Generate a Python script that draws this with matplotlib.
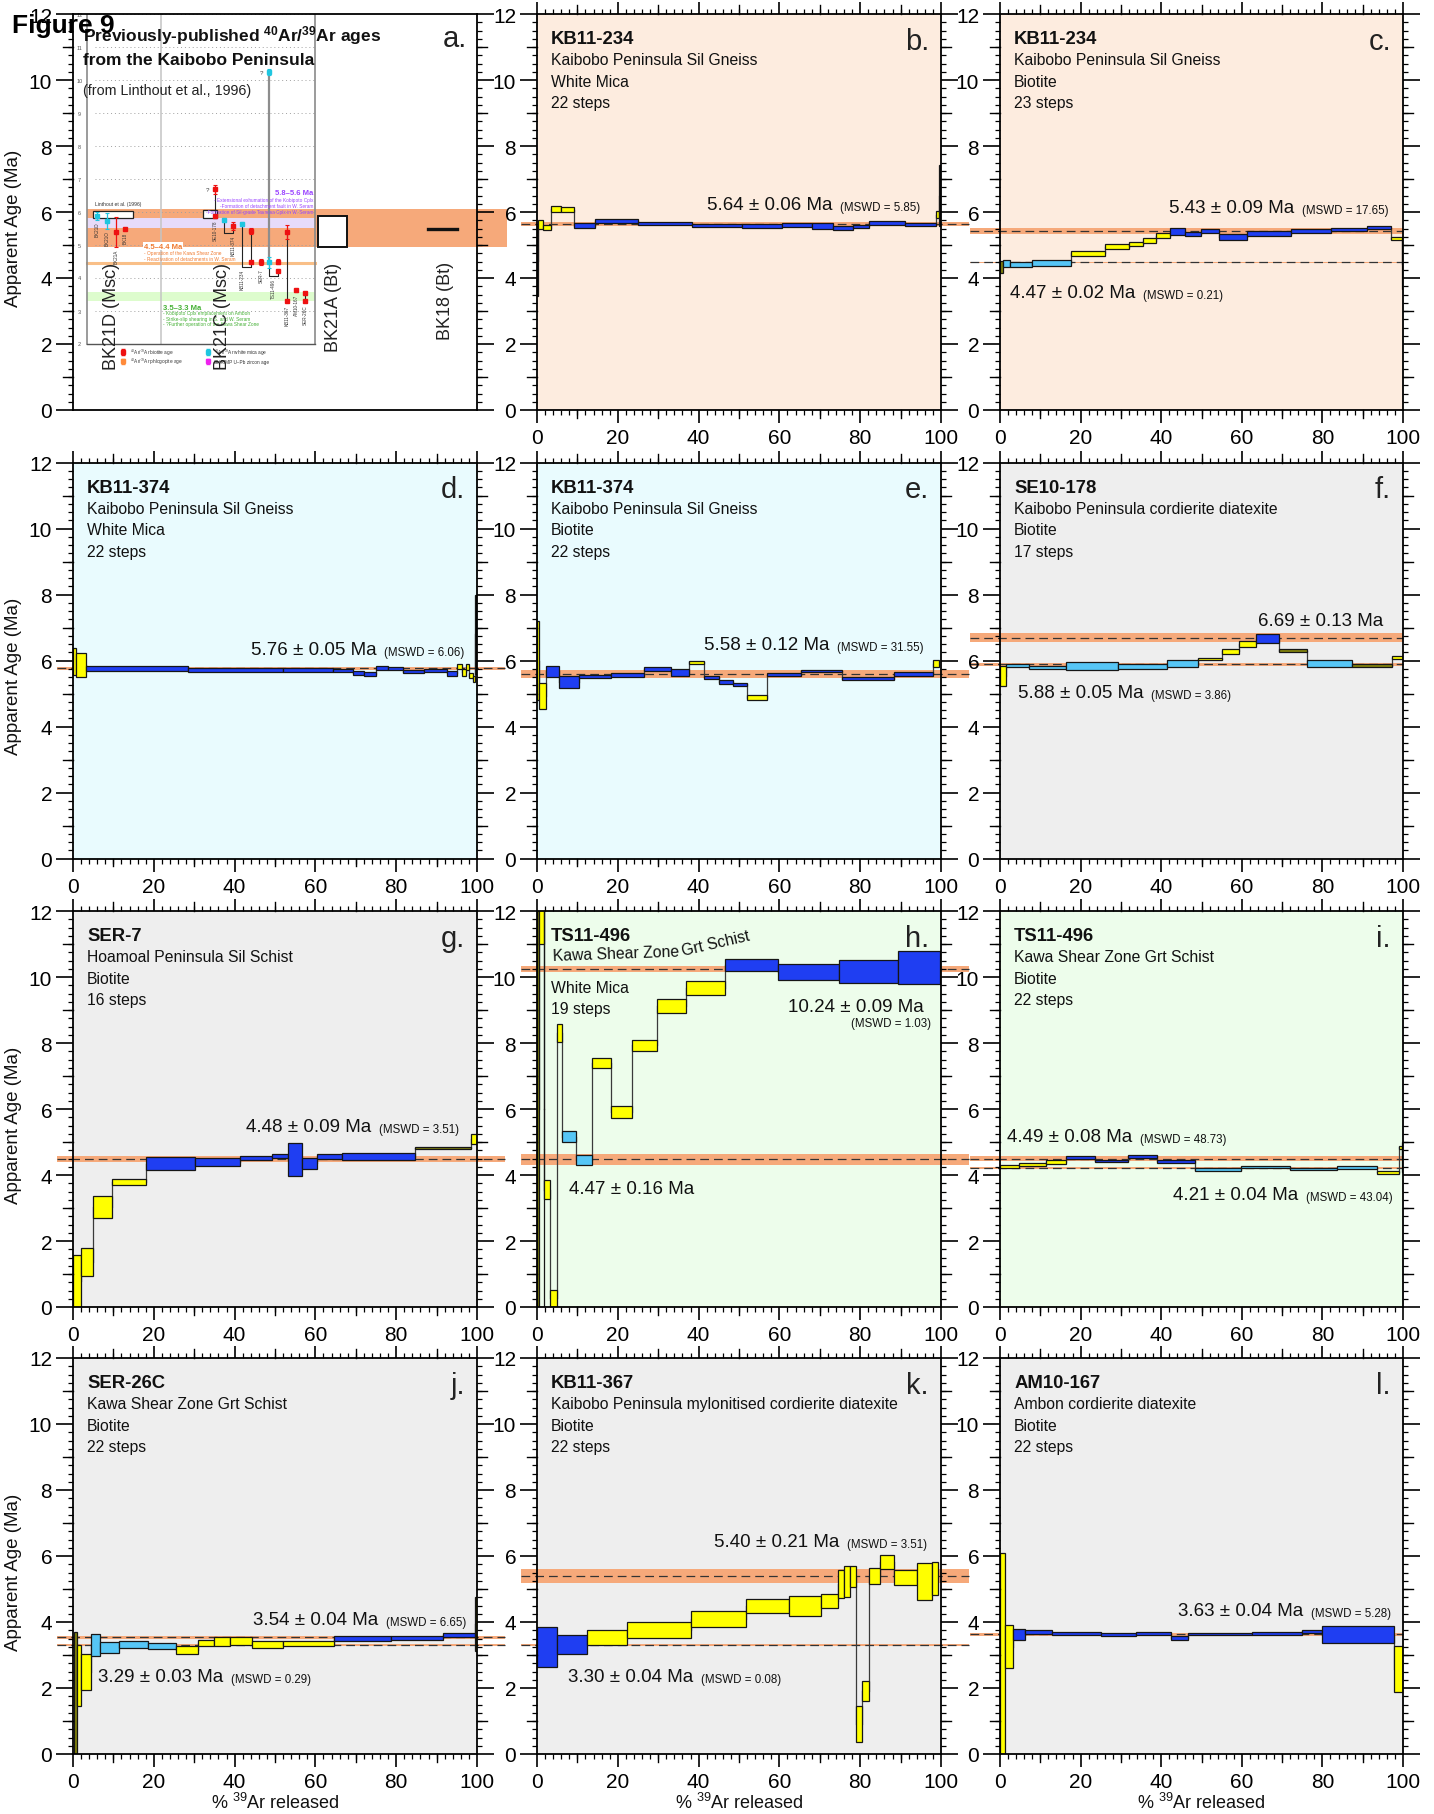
import matplotlib
matplotlib.use("Agg")
import matplotlib.pyplot as plt
from matplotlib.patches import Rectangle
from matplotlib.ticker import MultipleLocator

W, H = 1434, 1815
NARROW = ['Liberation Sans', 'DejaVu Sans']
REG = ['Liberation Sans', 'DejaVu Sans']
plt.rcParams['font.family'] = REG
plt.rcParams['mathtext.fontset'] = 'custom'
plt.rcParams['mathtext.rm'] = 'Liberation Sans'

# ---------------------------------------------------------------- data
# step-heating spectra: cumulative % 39Ar edges, apparent age, 2-sigma half height, colour code
B_EDGES = [0, 0.3, 1.5, 3.5, 5.9, 9.1, 14.4, 24.9, 38.4, 50.7, 60.6, 68.1, 73.3, 78.1, 82.3, 91.2, 98.8, 99.6, 100]
B_AGE = [4.52, 5.62, 5.53, 6.10, 6.07, 5.59, 5.74, 5.65, 5.60, 5.575, 5.61, 5.57, 5.51, 5.57, 5.665, 5.615, 5.92, 6.50]
B_ERR = [1.06, 0.14, 0.08, 0.09, 0.07, 0.07, 0.06, 0.045, 0.05, 0.055, 0.05, 0.09, 0.07, 0.05, 0.055, 0.045, 0.11, 0.93]
B_COL = list("KYYYYBBBBBBBBBBBYK")

C_EDGES = [0, 0.7, 2.5, 8.0, 17.5, 26.0, 31.9, 35.5, 38.8, 42.3, 46.0, 49.8, 54.3, 61.3, 72.1, 82.2, 91.1, 97.1, 99.8, 100]
C_AGE = [4.34, 4.43, 4.42, 4.455, 4.745, 4.95, 5.04, 5.125, 5.285, 5.415, 5.33, 5.43, 5.245, 5.345, 5.415, 5.47, 5.53, 5.195, 4.42]
C_ERR = [0.18, 0.11, 0.08, 0.085, 0.075, 0.075, 0.065, 0.075, 0.075, 0.115, 0.07, 0.07, 0.085, 0.065, 0.065, 0.06, 0.05, 0.045, 0.76]
C_COL = list("OLLLYYYYYBBBBBBBBYK")

D_EDGES = [0, 0.7, 3.1, 28.4, 51.9, 64.3, 69.2, 72.0, 75.0, 77.9, 81.6, 87.0, 92.5, 95.1, 96.2, 97.4, 98.1, 98.9, 99.6, 100]
D_AGE = [5.97, 5.87, 5.76, 5.71, 5.71, 5.69, 5.62, 5.59, 5.78, 5.75, 5.665, 5.69, 5.615, 5.81, 5.64, 5.80, 5.54, 5.445, 6.8]
D_ERR = [0.41, 0.37, 0.08, 0.05, 0.05, 0.05, 0.06, 0.05, 0.06, 0.045, 0.055, 0.05, 0.075, 0.07, 0.1, 0.1, 0.07, 0.09, 1.2]
D_COL = list("YYBBBBBBBBBBBYYYYYK")

E_EDGES = [0, 0.6, 2.2, 5.5, 10.3, 18.2, 26.5, 33.1, 37.5, 41.3, 45.0, 48.4, 51.9, 57.0, 65.3, 75.5, 88.4, 97.9, 99.6]
E_AGE = [6.0, 4.92, 5.675, 5.345, 5.505, 5.55, 5.735, 5.635, 5.94, 5.485, 5.345, 5.28, 4.875, 5.575, 5.68, 5.445, 5.59, 5.905]
E_ERR = [1.2, 0.4, 0.165, 0.19, 0.05, 0.06, 0.055, 0.095, 0.05, 0.055, 0.055, 0.05, 0.075, 0.035, 0.04, 0.045, 0.05, 0.115]
E_COL = list("YYBBBBBBYBBBYBBBBY")

F_EDGES = [0, 1.5, 7.3, 16.5, 29.4, 41.5, 49.2, 55.0, 59.3, 63.5, 69.3, 76.3, 87.3, 97.2, 100]
F_AGE = [5.525, 5.835, 5.785, 5.835, 5.805, 5.92, 6.055, 6.285, 6.5, 6.655, 6.30, 5.92, 5.845, 6.085]
F_ERR = [0.305, 0.045, 0.055, 0.125, 0.075, 0.11, 0.025, 0.075, 0.085, 0.135, 0.04, 0.11, 0.035, 0.045]
F_COL = list("YLLLLLYYYBOLOY")

G_EDGES = [0, 1.9, 4.9, 9.7, 18.1, 30.3, 41.4, 49.3, 53.2, 56.6, 60.5, 66.7, 84.7, 98.4, 100]
G_AGE = [0.79, 1.355, 3.025, 3.795, 4.345, 4.40, 4.515, 4.59, 4.465, 4.35, 4.555, 4.56, 4.82, 5.08]
G_ERR = [0.79, 0.425, 0.325, 0.085, 0.19, 0.12, 0.055, 0.06, 0.505, 0.18, 0.075, 0.12, 0.03, 0.15]
G_COL = list("YYYYBBBBBBBBOY")

H_EDGES = [0, 0.6, 1.7, 1.85, 3.2, 5.0, 6.3, 9.6, 13.7, 18.2, 23.6, 29.8, 37.0, 46.5, 59.7, 74.8, 89.4, 99.8]
H_AGE = [6.0, 12.0, 6.0, 3.555, 0.265, 8.3, 5.165, 4.455, 7.385, 5.9, 7.935, 9.115, 9.67, 10.37, 10.155, 10.165, 10.29]
H_ERR = [6.5, 1.0, 6.5, 0.295, 0.265, 0.28, 0.155, 0.155, 0.155, 0.18, 0.165, 0.205, 0.21, 0.19, 0.235, 0.345, 0.49]
H_COL = list("OYKYYYLLYYYYYBBBB")

I_EDGES = [0, 4.8, 11.3, 16.3, 23.6, 31.7, 38.9, 48.4, 59.8, 72.0, 83.7, 93.6, 99.1, 99.75, 100]
I_AGE = [4.265, 4.305, 4.39, 4.525, 4.42, 4.575, 4.415, 4.165, 4.25, 4.18, 4.22, 4.08, 4.84, 4.55]
I_ERR = [0.045, 0.045, 0.06, 0.045, 0.04, 0.045, 0.045, 0.035, 0.03, 0.04, 0.04, 0.05, 0.05, 0.45]
I_COL = list("YYYBBBBLLLLYYK")

J_EDGES = [0.3, 1.1, 2.1, 4.4, 6.8, 11.4, 18.6, 25.5, 30.9, 35.0, 38.9, 44.4, 51.9, 64.7, 78.6, 91.5, 99.6, 100]
J_AGE = [1.855, 2.37, 2.485, 3.31, 3.215, 3.305, 3.265, 3.145, 3.355, 3.40, 3.43, 3.31, 3.345, 3.50, 3.515, 3.61, 3.94]
J_ERR = [1.855, 0.93, 0.545, 0.33, 0.165, 0.105, 0.085, 0.115, 0.095, 0.14, 0.13, 0.10, 0.065, 0.065, 0.06, 0.05, 0.81]
J_COL = list("OYYLLLLYYYYYYBBBY")

K_EDGES = [0, 5.0, 12.3, 22.4, 38.0, 51.7, 62.4, 70.3, 74.4, 76.1, 77.5, 78.9, 80.4, 82.2, 84.9, 88.4, 94.0, 97.7, 99.2]
K_AGE = [3.235, 3.32, 3.53, 3.76, 4.09, 4.485, 4.475, 4.63, 5.155, 5.22, 5.37, 0.895, 1.92, 5.395, 5.825, 5.36, 5.225, 5.33]
K_ERR = [0.605, 0.29, 0.23, 0.25, 0.25, 0.215, 0.305, 0.22, 0.425, 0.47, 0.32, 0.545, 0.30, 0.245, 0.215, 0.23, 0.555, 0.5]
K_COL = list("BBYYYYYYYYYYYYYYYY")

L_EDGES = [0, 1.2, 3.2, 6.3, 13.0, 25.0, 33.7, 42.4, 46.7, 62.5, 74.9, 79.8, 97.7, 100]
L_AGE = [3.05, 3.25, 3.62, 3.69, 3.66, 3.62, 3.65, 3.52, 3.64, 3.66, 3.72, 3.62, 2.575]
L_ERR = [3.05, 0.65, 0.17, 0.06, 0.05, 0.05, 0.05, 0.07, 0.04, 0.04, 0.05, 0.26, 0.695]
L_COL = list("YYBBBBBBBBBBY")

# plateau ages (age, error)
B_PLAT = [(5.64, 0.06)]
C_PLAT = [(5.43, 0.09), (4.47, 0.02)]
D_PLAT = [(5.76, 0.05)]
E_PLAT = [(5.58, 0.12)]
F_PLAT = [(6.69, 0.13), (5.88, 0.05)]
G_PLAT = [(4.48, 0.09)]
H_PLAT = [(10.24, 0.09), (4.47, 0.16)]
I_PLAT = [(4.49, 0.08), (4.21, 0.04)]
J_PLAT = [(3.54, 0.04), (3.29, 0.03)]
K_PLAT = [(5.40, 0.21), (3.30, 0.04)]
L_PLAT = [(3.63, 0.04)]

# plateau annotations: (x %, y Ma, age text, MSWD text)
B_LAB = [(42.1, 6.09, '5.64 ± 0.06 Ma', '(MSWD = 5.85)')]
C_LAB = [(41.9, 6.00, '5.43 ± 0.09 Ma', '(MSWD = 17.65)'), (2.5, 3.42, '4.47 ± 0.02 Ma', '(MSWD = 0.21)')]
D_LAB = [(44.1, 6.21, '5.76 ± 0.05 Ma', '(MSWD = 6.06)')]
E_LAB = [(41.3, 6.36, '5.58 ± 0.12 Ma', '(MSWD = 31.55)')]
F_LAB = [(64.0, 7.09, '6.69 ± 0.13 Ma', None), (4.5, 4.88, '5.88 ± 0.05 Ma', '(MSWD = 3.86)')]
G_LAB = [(42.8, 5.33, '4.48 ± 0.09 Ma', '(MSWD = 3.51)')]
H_LAB = [(62.1, 8.97, '10.24 ± 0.09 Ma', None), (7.9, 3.45, '4.47 ± 0.16 Ma', None)]
I_LAB = [(1.7, 5.03, '4.49 ± 0.08 Ma', '(MSWD = 48.73)'), (42.9, 3.27, '4.21 ± 0.04 Ma', '(MSWD = 43.04)')]
J_LAB = [(44.6, 3.94, '3.54 ± 0.04 Ma', '(MSWD = 6.65)'), (6.2, 2.21, '3.29 ± 0.03 Ma', '(MSWD = 0.29)')]
K_LAB = [(43.8, 6.30, '5.40 ± 0.21 Ma', '(MSWD = 3.51)'), (7.7, 2.21, '3.30 ± 0.04 Ma', '(MSWD = 0.08)')]
L_LAB = [(44.2, 4.21, '3.63 ± 0.04 Ma', '(MSWD = 5.28)')]

# sample descriptions
B_TXT = ['KB11-234', 'Kaibobo Peninsula Sil Gneiss', 'White Mica', '22 steps']
C_TXT = ['KB11-234', 'Kaibobo Peninsula Sil Gneiss', 'Biotite', '23 steps']
D_TXT = ['KB11-374', 'Kaibobo Peninsula Sil Gneiss', 'White Mica', '22 steps']
E_TXT = ['KB11-374', 'Kaibobo Peninsula Sil Gneiss', 'Biotite', '22 steps']
F_TXT = ['SE10-178', 'Kaibobo Peninsula cordierite diatexite', 'Biotite', '17 steps']
G_TXT = ['SER-7', 'Hoamoal Peninsula Sil Schist', 'Biotite', '16 steps']
H_TXT = ['TS11-496', None, 'White Mica', '19 steps']
I_TXT = ['TS11-496', 'Kawa Shear Zone Grt Schist', 'Biotite', '22 steps']
J_TXT = ['SER-26C', 'Kawa Shear Zone Grt Schist', 'Biotite', '22 steps']
K_TXT = ['KB11-367', 'Kaibobo Peninsula mylonitised cordierite diatexite', 'Biotite', '22 steps']
L_TXT = ['AM10-167', 'Ambon cordierite diatexite', 'Biotite', '22 steps']

# panel a: previously published ages (Linthout et al., 1996 inset)
A_PT_X = [5.9, 8.4, 10.6, 12.9, 35.1, 35.1, 37.4, 39.6, 41.8, 44.1, 44.1, 46.5, 48.5, 48.5, 50.7, 50.7, 53.0, 53.0, 55.2, 57.4, 57.4]
A_PT_AGE = [5.88, 5.72, 5.40, 5.48, 6.69, 5.88, 5.76, 5.58, 5.64, 5.43, 4.47, 4.48, 10.24, 4.47, 4.49, 4.21, 5.40, 3.30, 3.63, 3.54, 3.29]
A_PT_ERR = [0.12, 0.25, 0.45, 0.03, 0.13, 0.05, 0.05, 0.12, 0.06, 0.09, 0.02, 0.09, 0.09, 0.16, 0.08, 0.04, 0.21, 0.04, 0.04, 0.04, 0.03]
A_PT_KIND = list("CCRRRRCRCRRRCCRRRRRRR")
A_SAMPLES = ['BK21D', 'BK21O', 'BK21A', 'BK18', 'SE10-178', 'KB11-374', 'KB11-234', 'SER-7', 'TS11-496', 'KB11-367', 'AM10-167', 'SER-26C']
A_SAMPLE_X = [5.9, 8.4, 10.6, 12.9, 35.1, 39.6, 41.8, 46.5, 49.6, 53.0, 55.2, 57.4]
A_SAMPLE_TOP = [5.72, 5.45, 4.90, 5.40, 5.76, 5.30, 4.28, 4.30, 4.00, 3.20, 3.52, 3.20]
A_BIG_LABELS = ['BK21D (Msc)', 'BK21C (Msc)', 'BK21A (Bt)', 'BK18 (Bt)']
A_BIG_X = [9.65, 36.9, 64.4, 92.1]
A_BIG_Y = [1.24, 1.24, 1.79, 2.15]
A_BK21A_AGE = (4.94, 5.88)
A_BK18_AGE = 5.5
A_BAND_ORANGE = (4.94, 6.09)
A_BAND_PURPLE = (5.52, 5.82)
A_LINE_ORANGE = 4.45
A_BAND_GREEN = (3.30, 3.58)

# ---------------------------------------------------------------- style
PEACH, CYAN, GREY, GREEN = '#fdecdf', '#e9fbfe', '#eeeeee', '#edfdeb'
BAND = '#f6a97a'
STEP_COLORS = {'Y': '#ffff00', 'B': '#1f3ef2', 'L': '#56c6f6', 'O': '#86860c', 'K': '#2a2a2a'}
COL_L = [73, 537, 1000]
COL_W = [404, 404, 403]
ROW_T = [15, 463.5, 912, 1359]
ROW_H = 396

fig = plt.figure(figsize=(W / 100, H / 100), dpi=100)


def rect(r, c):
    return [COL_L[c] / W, 1 - (ROW_T[r] + ROW_H) / H, COL_W[c] / W, ROW_H / H]


def setup(ax, bg, xticks=True):
    ax.set_xlim(0, 100)
    ax.set_ylim(0, 12)
    ax.set_facecolor(bg)
    for s in ax.spines.values():
        s.set_linewidth(1.3)
        s.set_zorder(4)
    ax.yaxis.set_major_locator(MultipleLocator(2))
    ax.yaxis.set_minor_locator(MultipleLocator(0.25))
    ax.xaxis.set_major_locator(MultipleLocator(20))
    ax.xaxis.set_minor_locator(MultipleLocator(2))
    ax.tick_params(axis='y', which='major', direction='out', length=12, width=1.2,
                   left=True, right=True, labelsize=15, pad=3)
    ax.tick_params(axis='y', which='minor', direction='out', length=3.6, width=0.9,
                   left=True, right=True)
    ty = ax.get_yaxis_transform()
    for v in range(1, 12, 2):
        ax.plot([-0.025, 0], [v, v], transform=ty, color='k', lw=1.0, clip_on=False, zorder=4)
        ax.plot([1, 1.025], [v, v], transform=ty, color='k', lw=1.0, clip_on=False, zorder=4)
    if xticks:
        ax.tick_params(axis='x', which='major', direction='out', length=9, width=1.2,
                       top=True, bottom=True, labelsize=15, pad=4)
        ax.tick_params(axis='x', which='minor', direction='out', length=3.6, width=0.9,
                       top=True, bottom=True)
        tx = ax.get_xaxis_transform()
        for v in range(10, 100, 20):
            ax.plot([v, v], [-0.02, 0], transform=tx, color='k', lw=1.0, clip_on=False, zorder=4)
            ax.plot([v, v], [1, 1.022], transform=tx, color='k', lw=1.0, clip_on=False, zorder=4)
    else:
        ax.tick_params(axis='x', which='both', bottom=False, top=False, labelbottom=False)


def spectrum(ax, edges, ages, errs, cols):
    n = len(ages)
    lefts = edges[:n]
    widths = [edges[i + 1] - edges[i] for i in range(n)]
    bottoms = [a - e for a, e in zip(ages, errs)]
    heights = [2 * e for e in errs]
    ax.bar(lefts, heights, width=widths, bottom=bottoms, align='edge',
           color=[STEP_COLORS[c] for c in cols], edgecolor='#161616', linewidth=0.9, zorder=3)
    for i in range(n - 1):
        ax.plot([edges[i + 1]] * 2, [ages[i], ages[i + 1]], color='#3a3a3a', lw=0.9, zorder=2)


def plateau(ax, age, err, x0, x1):
    h = max(err, 0.03)
    ax.add_patch(Rectangle((x0, age - h), x1 - x0, 2 * h, facecolor=BAND, edgecolor='none',
                           clip_on=False, zorder=1))
    ax.plot([x0, x1], [age, age], color='#333333', lw=0.9, dashes=(7, 4),
            clip_on=False, zorder=1.5)


def age_label(ax, x, y, main, mswd):
    t = ax.text(x, y, main, fontsize=13.5, family=REG, color='#111', zorder=6)
    if mswd:
        ax.annotate(mswd, xy=(1, 0), xycoords=t, xytext=(5.5, 0), textcoords='offset points',
                    fontsize=8.3, family=NARROW, color='#111', va='bottom', ha='left', zorder=6)


LINE_Y = [11.12, 10.47, 9.82, 9.17]


def describe(ax, lines, letter):
    for i, s in enumerate(lines):
        if s is None:
            continue
        if i == 0:
            ax.text(3.5, LINE_Y[i], s, fontsize=13.3, weight='bold', family=NARROW, color='#111', zorder=6)
        else:
            ax.text(3.5, LINE_Y[i], s, fontsize=11.3, family=NARROW, color='#111', zorder=6)
    ax.text(97.0, 10.95, letter, fontsize=21, family=NARROW, ha='right', color='#222', zorder=6)


PANELS = [
    ('b', 0, 1, PEACH, B_EDGES, B_AGE, B_ERR, B_COL, B_PLAT, B_LAB, B_TXT),
    ('c', 0, 2, PEACH, C_EDGES, C_AGE, C_ERR, C_COL, C_PLAT, C_LAB, C_TXT),
    ('d', 1, 0, CYAN, D_EDGES, D_AGE, D_ERR, D_COL, D_PLAT, D_LAB, D_TXT),
    ('e', 1, 1, CYAN, E_EDGES, E_AGE, E_ERR, E_COL, E_PLAT, E_LAB, E_TXT),
    ('f', 1, 2, GREY, F_EDGES, F_AGE, F_ERR, F_COL, F_PLAT, F_LAB, F_TXT),
    ('g', 2, 0, GREY, G_EDGES, G_AGE, G_ERR, G_COL, G_PLAT, G_LAB, G_TXT),
    ('h', 2, 1, GREEN, H_EDGES, H_AGE, H_ERR, H_COL, H_PLAT, H_LAB, H_TXT),
    ('i', 2, 2, GREEN, I_EDGES, I_AGE, I_ERR, I_COL, I_PLAT, I_LAB, I_TXT),
    ('j', 3, 0, GREY, J_EDGES, J_AGE, J_ERR, J_COL, J_PLAT, J_LAB, J_TXT),
    ('k', 3, 1, GREY, K_EDGES, K_AGE, K_ERR, K_COL, K_PLAT, K_LAB, K_TXT),
    ('l', 3, 2, GREY, L_EDGES, L_AGE, L_ERR, L_COL, L_PLAT, L_LAB, L_TXT),
]

# ---------------------------------------------------------------- panel a
axa = fig.add_axes(rect(0, 0))
setup(axa, 'white', xticks=False)
IN_L, IN_M, IN_R = 3.5, 21.8, 60.0
axa.add_patch(Rectangle((IN_L, A_BAND_ORANGE[0]), 107.4 - IN_L, A_BAND_ORANGE[1] - A_BAND_ORANGE[0],
                        facecolor=BAND, edgecolor='none', clip_on=False, zorder=1))
axa.add_patch(Rectangle((IN_L, A_BAND_PURPLE[0]), IN_R - IN_L, A_BAND_PURPLE[1] - A_BAND_PURPLE[0],
                        facecolor='#e7dbfa', edgecolor='none', zorder=1.1))
axa.add_patch(Rectangle((IN_L, A_BAND_GREEN[0]), IN_R - IN_L, A_BAND_GREEN[1] - A_BAND_GREEN[0],
                        facecolor='#ddfccd', edgecolor='none', zorder=1.1))
axa.plot([IN_L, IN_R], [A_LINE_ORANGE] * 2, color='#f9bf88', lw=2.2, zorder=1.2)
for v in range(3, 13):
    axa.plot([5.5, IN_R], [v, v], color='#a0a0a0', lw=0.7, ls=(0, (1, 3)), zorder=1.3)
    axa.text(1.6, v, str(v), fontsize=4, color='#555', ha='center', va='center', zorder=2)
axa.text(1.6, 2, '2', fontsize=4, color='#555', ha='center', va='center', zorder=2)
axa.plot([IN_L, IN_L], [2, 12], color='#8a8a8a', lw=1.2, zorder=1.4)
axa.plot([IN_M, IN_M], [2, 12], color='#c4c4c4', lw=1.1, zorder=1.4)
axa.plot([IN_R, IN_R], [2, 12], color='#8a8a8a', lw=1.2, zorder=1.4)
axa.plot([IN_L, IN_R], [2, 2], color='#555', lw=1.0, zorder=1.4)
axa.add_patch(Rectangle((4.95, 5.82), 9.9, 0.21, facecolor='white', edgecolor='#222', lw=0.9, zorder=1.6))
axa.add_patch(Rectangle((32.2, 5.82), 3.4, 0.23, facecolor='white', edgecolor='#222', lw=0.9, zorder=1.6))
axa.text(5.4, 6.22, 'Linthout et al. (1996)', fontsize=3.6, color='#333', zorder=3)
# connectors
axa.plot([48.5, 48.5], [10.24, 4.47], color='#8d8d8d', lw=1.6, zorder=1.8)
for xs, ys in [([35.1, 35.1], [6.69, 5.88]), ([44.1, 44.1], [5.43, 4.47]), ([53.0, 53.0], [5.40, 3.30]),
               ([57.4, 57.4], [3.54, 3.29]),
               ([37.4, 37.4, 39.6, 39.6], [5.76, 5.35, 5.35, 5.58]),
               ([41.8, 41.8, 44.1, 44.1], [5.64, 4.33, 4.33, 4.47]),
               ([48.5, 48.5, 50.7, 50.7], [4.47, 4.07, 4.07, 4.21])]:
    axa.plot(xs, ys, color='#222', lw=0.8, zorder=1.9)
PT_COLORS = {'C': '#1fc6e0', 'R': '#ee1111'}
for x, a, e, k in zip(A_PT_X, A_PT_AGE, A_PT_ERR, A_PT_KIND):
    axa.errorbar([x], [a], yerr=[e], fmt='s', ms=3.2, color=PT_COLORS[k], ecolor=PT_COLORS[k],
                 elinewidth=0.9, capsize=1.6, capthick=0.8, zorder=2.5)
axa.text(33.7, 6.67, '?', fontsize=4.5, color='#333', ha='right', va='center', zorder=3)
axa.text(47.0, 10.24, '?', fontsize=4.5, color='#333', ha='right', va='center', zorder=3)
for s, x, top in zip(A_SAMPLES, A_SAMPLE_X, A_SAMPLE_TOP):
    axa.text(x, top, s, fontsize=3.3, rotation=90, ha='center', va='top', color='#333', zorder=3)
# interpretation texts
axa.text(59.4, 6.55, '5.8–5.6 Ma', fontsize=5.5, weight='bold', color='#9b45ff', ha='right', zorder=3)
for y, s in zip([6.33, 6.15, 5.97], ['- Extensional exhumation of the Kobipoto Cplx',
                                     '-Formation of detachment fault in W. Seram',
                                     '-Formation of Sil-grade Taunusa Cplx in W. Seram']):
    axa.text(59.4, y, s, fontsize=3.4, color='#9b45ff', ha='right', zorder=3)
axa.text(17.6, 4.92, '4.5–4.4 Ma', fontsize=5.5, weight='bold', color='#f07a30', zorder=3,
         bbox=dict(facecolor='white', edgecolor='none', pad=0.6))
for y, s in zip([4.74, 4.56], ['- Operation of the Kawa Shear Zone', '- Reactivation of detachments in W. Seram']):
    axa.text(17.6, y, s, fontsize=3.4, color='#f07a30', zorder=3)
axa.text(22.3, 3.06, '3.5–3.3 Ma', fontsize=5.5, weight='bold', color='#45b035', zorder=3)
for y, s in zip([2.90, 2.74, 2.57], ['- Kobipoto Cplx emplacement on Ambon',
                                     '- Strike-slip shearing in S. and W. Seram',
                                     '- ?Further operation of the Kawa Shear Zone']):
    axa.text(22.3, y, s, fontsize=3.4, color='#45b035', zorder=3)
# inset legend
for (x, y, c, s) in [(12.4, 1.76, '#ee1111', r'$\mathregular{^{40}}$Ar/$\mathregular{^{39}}$Ar biotite age'),
                     (12.4, 1.48, '#ff8a3a', r'$\mathregular{^{40}}$Ar/$\mathregular{^{39}}$Ar phlogopite age'),
                     (33.4, 1.76, '#1fc6e0', r'$\mathregular{^{40}}$Ar/$\mathregular{^{39}}$Ar white mica age'),
                     (33.4, 1.48, '#ee22ee', 'SHRIMP U–Pb zircon age')]:
    axa.errorbar([x], [y], yerr=[0.08], fmt='s', ms=2.6, color=c, elinewidth=0.8, capsize=1.2, zorder=3)
    axa.text(x + 1.6, y, s, fontsize=3.4, color='#333', va='center', zorder=3)
# BK21A / BK18 literature ages
axa.add_patch(Rectangle((60.6, A_BK21A_AGE[0]), 7.2, A_BK21A_AGE[1] - A_BK21A_AGE[0],
                        facecolor='white', edgecolor='#111', lw=1.4, zorder=2))
axa.plot([87.9, 95.0], [A_BK18_AGE] * 2, color='#111', lw=2.4, zorder=2)
for s, x, y in zip(A_BIG_LABELS, A_BIG_X, A_BIG_Y):
    axa.text(x, y, s, fontsize=13, rotation=90, ha='center', va='bottom', color='#222', zorder=3)
axa.text(2.5, 11.2, r'Previously-published $\mathregular{^{40}}$Ar/$\mathregular{^{39}}$Ar ages',
         fontsize=12.5, weight='bold', family=NARROW, color='#111', zorder=6)
axa.text(2.5, 10.48, 'from the Kaibobo Peninsula', fontsize=12.5, weight='bold', family=NARROW,
         color='#111', zorder=6)
axa.text(2.5, 9.58, '(from Linthout et al., 1996)', fontsize=10.3, family=NARROW, color='#222', zorder=6)
axa.text(97.5, 11.03, 'a.', fontsize=21, family=NARROW, ha='right', color='#222', zorder=6)

# ---------------------------------------------------------------- panels b-l
axes = {'a': axa}
for key, r, c, bg, edges, ages, errs, cols, plats, labs, txt in PANELS:
    ax = fig.add_axes(rect(r, c))
    setup(ax, bg)
    x0, x1 = (-7.5, 100.0) if c == 2 else (-4.0, 107.0)
    for a, e in plats:
        plateau(ax, a, e, x0, x1)
    spectrum(ax, edges, ages, errs, cols)
    for x, y, m, ms in labs:
        age_label(ax, x, y, m, ms)
    describe(ax, txt, key + '.')
    axes[key] = ax

axh = axes['h']
axh.text(97.5, 8.52, '(MSWD = 1.03)', fontsize=8.3, family=NARROW, ha='right', color='#111', zorder=6)
axh.text(4.0, 10.52, 'Kawa Shear Zone', fontsize=11.3, family=NARROW, rotation=2,
         rotation_mode='anchor', color='#111', zorder=6)
axh.text(36.1, 10.68, 'Grt Schist', fontsize=11.3, family=NARROW, rotation=13,
         rotation_mode='anchor', color='#111', zorder=6)
# h lines 3-4 sit lower
for t in axh.texts:
    if t.get_text() == 'White Mica':
        t.set_y(9.55)
    elif t.get_text() == '19 steps':
        t.set_y(8.92)

# axis labels
for r in range(4):
    yc = ROW_T[r] + ROW_H / 2 + 15
    fig.text(14 / W, 1 - yc / H, 'Apparent Age (Ma)', rotation=90, ha='center', va='center',
             fontsize=13.5, family=NARROW, color='#111')
for c in range(3):
    xc = COL_L[c] + COL_W[c] / 2
    fig.text(xc / W, 1 - 1803 / H, r'% $\mathregular{^{39}}$Ar released', ha='center', va='center',
             fontsize=13, family=NARROW, color='#111')

fig.text(12 / W, 1 - 33 / H, 'Figure 9', fontsize=19, weight='bold', family=REG, color='#000')

fig.savefig('out.png', dpi=100)
